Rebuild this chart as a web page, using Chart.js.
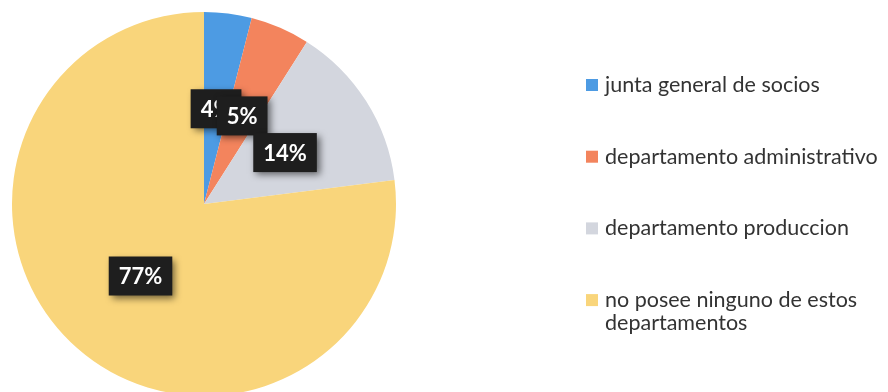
<!DOCTYPE html>
<html lang="es">
<head>
<meta charset="utf-8">
<title>Departamentos</title>
<script src="https://cdn.jsdelivr.net/npm/chart.js@4.4.1/dist/chart.umd.min.js"></script>
<style>
  html, body { margin: 0; padding: 0; background: #ffffff; overflow: hidden; }
  #wrap { position: relative; width: 888px; height: 392px; overflow: hidden; }
  canvas { display: block; }
</style>
</head>
<body>
<div id="wrap">
  <canvas id="graficoDepartamentos" width="888" height="400"></canvas>
</div>
<script>
// Datos del gráfico
const categorias = [
  "junta general de socios",
  "departamento administrativo",
  "departamento produccion",
  ["no posee ninguno de estos", "departamentos"]
];
const porcentajes = [4, 5, 14, 77];
const colores = ["#4d9be3", "#f3845d", "#d3d6de", "#f9d57b"];

// Etiquetas con fondo oscuro sobre cada porción
const etiquetasPlugin = {
  id: "etiquetasPorcentaje",
  afterDatasetsDraw(chart) {
    const ctx = chart.ctx;
    const meta = chart.getDatasetMeta(0);
    const datos = chart.data.datasets[0].data;
    ctx.save();
    ctx.font = "bold 22px Lato, 'Open Sans', sans-serif";
    ctx.textAlign = "center";
    ctx.textBaseline = "middle";
    meta.data.forEach((arc, i) => {
      const pos = arc.tooltipPosition();
      const texto = datos[i] + "%";
      const w = ctx.measureText(texto).width + 20;
      const h = 39;
      ctx.save();
      ctx.shadowColor = "rgba(0,0,0,0.55)";
      ctx.shadowBlur = 7;
      ctx.shadowOffsetX = 3;
      ctx.shadowOffsetY = 3;
      ctx.fillStyle = "#1e1e1e";
      ctx.fillRect(pos.x - w / 2, pos.y - h / 2, w, h);
      ctx.restore();
      ctx.fillStyle = "#ffffff";
      ctx.fillText(texto, pos.x, pos.y + 1);
    });
    ctx.restore();
  }
};

// Leyenda a la derecha
const leyendaPlugin = {
  id: "leyendaDerecha",
  afterDraw(chart) {
    const ctx = chart.ctx;
    const etiquetas = chart.data.labels;
    const fondo = chart.data.datasets[0].backgroundColor;
    const x0 = 586, y0 = 85, paso = 71.7, caja = 12, linea = 23;
    ctx.save();
    ctx.font = "21.5px Lato, 'Open Sans', sans-serif";
    ctx.textBaseline = "middle";
    ctx.textAlign = "left";
    etiquetas.forEach((et, i) => {
      const y = y0 + i * paso;
      ctx.fillStyle = fondo[i];
      ctx.fillRect(x0, y - caja / 2, caja, caja);
      ctx.fillStyle = "#333333";
      const lineas = Array.isArray(et) ? et : [et];
      lineas.forEach((l, j) => ctx.fillText(l, x0 + 19, y + j * linea));
    });
    ctx.restore();
  }
};

const grafico = new Chart(document.getElementById("graficoDepartamentos"), {
  type: "pie",
  data: {
    labels: categorias,
    datasets: [{
      data: porcentajes,
      backgroundColor: colores,
      borderWidth: 0
    }]
  },
  options: {
    responsive: false,
    animation: false,
    devicePixelRatio: 1,
    layout: { padding: { left: 12, top: 12, right: 492, bottom: 4 } },
    plugins: {
      legend: { display: false },
      tooltip: { enabled: false }
    }
  },
  plugins: [etiquetasPlugin, leyendaPlugin]
});
</script>
</body>
</html>
